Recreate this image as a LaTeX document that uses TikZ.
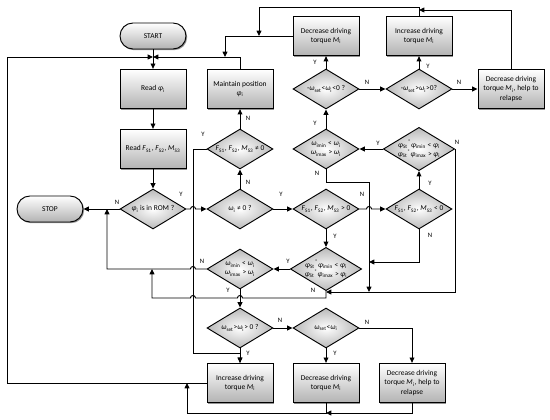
\documentclass[tikz,border=0pt]{standalone}
\usepackage{fontspec}
\setmainfont{Carlito}
\usetikzlibrary{arrows.meta,shapes.geometric,shadows}
% italic symbol with subscript
\newcommand{\ix}[2]{\textit{#1}\textsubscript{#2}}

\begin{document}
\begin{tikzpicture}[
  x=0.75pt, y=-0.75pt,
  line width=0.7pt,
  font=\fontsize{5.6}{6.8}\selectfont,
  box/.style={draw, minimum width=49.5pt, minimum height=29.5pt, inner sep=1pt, align=center,
    top color=white, bottom color=gray!60,
    drop shadow={shadow xshift=0.9pt, shadow yshift=-0.9pt, fill=black!60, opacity=0.7}},
  term/.style={box, rounded corners=9.7pt, minimum height=19.5pt},
  test/.style={draw, diamond, aspect=1.65, minimum width=49.5pt, minimum height=30pt, inner sep=0pt,
    align=center, inner color=white, outer color=gray!55},
  arrow/.style={-{Triangle[length=4pt, width=3.6pt]}},
  lbl/.style={font=\fontsize{5}{6}\selectfont, inner sep=0pt}
]
\useasboundingbox (0,0) rectangle (550,420);

% left column
\node[term] (start) at (153,36) {START};
\node[box] (readphi) at (153,89) {Read \ix{φ}{i}};
\node[box] (readF) at (153,149) {Read \ix{F}{S1}, \ix{F}{S2}, \ix{M}{S3}};
\node[test] (rom) at (153,209) {\ix{φ}{i} is in ROM ?};
\node[term] (stop) at (50,209) {STOP};

% middle row
\node[test] (wzero) at (240,209) {\ix{ω}{i} ≠ 0 ?};
\node[test] (fnz) at (240,149) {\ix{F}{S1}, \ix{F}{S2}, \ix{M}{S3} ≠ 0};
\node[box] (maintain) at (240,89) {Maintain position\\\ix{φ}{i}};
\node[test] (fpos) at (326,209) {\ix{F}{S1}, \ix{F}{S2}, \ix{M}{S3} \textgreater{} 0};
\node[test] (fneg) at (419,209) {\ix{F}{S1}, \ix{F}{S2}, \ix{M}{S3} \textless{} 0};

% upper part
\node[test] (phiup) at (419,149) {\ix{φ}{St}\textsuperscript{*}\ix{φ}{imin} \textless{} \ix{φ}{i}\\\ix{φ}{St}\textsuperscript{*}\ix{φ}{imax} \textgreater{} \ix{φ}{i}};
\node[test] (omup) at (326,149) {\ix{ω}{imin} \textless{} \ix{ω}{i}\\\ix{ω}{imax} \textgreater{} \ix{ω}{i}};
\node[test] (wneg) at (326,89) {-\ix{ω}{set}\textless\ix{ω}{i}\textless0 ?};
\node[test] (wpos) at (419,89) {-\ix{ω}{set}\textgreater\ix{ω}{i}\textgreater0?};
\node[box] (dectop) at (326,36) {Decrease driving\\torque \ix{M}{i}};
\node[box] (inctop) at (419,36) {Increase driving\\torque \ix{M}{i}};
\node[box] (relapsetop) at (511,89) {Decrease driving\\torque \ix{M}{i}, help to\\relapse};

% lower part
\node[test] (philow) at (326,269) {\ix{φ}{St}\textsuperscript{*}\ix{φ}{imin} \textless{} \ix{φ}{i}\\\ix{φ}{St}\textsuperscript{*}\ix{φ}{imax} \textgreater{} \ix{φ}{i}};
\node[test] (omlow) at (240,269) {\ix{ω}{imin} \textless{} \ix{ω}{i}\\\ix{ω}{imax} \textgreater{} \ix{ω}{i}};
\node[test] (wset) at (240,328) {\ix{ω}{set}\textgreater\ix{ω}{i}\textgreater{} 0 ?};
\node[test] (wless) at (326,328) {\ix{ω}{set}\textless\ix{ω}{i}};
\node[box] (incbot) at (240,383) {Increase driving\\torque \ix{M}{i}};
\node[box] (decbot) at (326,383) {Decrease driving\\torque \ix{M}{i}};
\node[box] (relapsebot) at (412,383) {Decrease driving\\torque \ix{M}{i}, help to\\relapse};

% junctions
\coordinate (jtop) at (153,57);
\coordinate (jdec) at (225,57);
\coordinate (jdt) at (259,36);
\coordinate (jrel) at (419,10);
\coordinate (jstop) at (107,209);
\coordinate (jlow) at (152,269);
\coordinate (jphi) at (326,292);
\coordinate (jom) at (369,292);
\coordinate (jfn) at (369,262);
\coordinate (jinc) at (240,353);
\coordinate (jbot) at (326,413);
\coordinate (jloop) at (187,383);

% main line
\draw[arrow] (start) -- (readphi);
\draw[arrow] (readphi) -- (readF);
\draw[arrow] (readF) -- (rom);
\draw[arrow] (rom) -- (stop);
\draw[arrow] (rom.east) -- (190.5,209) arc[start angle=180, end angle=0, radius=1.9pt] -- (wzero.west);
\draw[arrow] (wzero) -- (fnz);
\draw[arrow] (fnz) -- (maintain);
\draw[arrow] (fnz.west) -| (193,353) -- (jinc) -- (incbot);
\draw[arrow] (wzero) -- (fpos);
\draw[arrow] (fpos.east) -- (366.5,209) arc[start angle=180, end angle=0, radius=1.9pt] -- (fneg.west);
\draw[arrow] (fpos) -- (philow);
\draw[arrow] (fneg) -- (phiup);
\draw[arrow] (fneg.south) |- (jfn);

% upper loops
\draw[arrow] (phiup) -- (omup);
\draw[arrow] (phiup.east) -- (455,149) |- (jphi);
\draw[arrow] (omup) -- (wneg);
\draw[arrow] (omup.south) -- (326,182) -| (jom);
\draw[arrow] (wneg) -- (dectop);
\draw[arrow] (wneg) -- (wpos);
\draw[arrow] (wpos) -- (inctop);
\draw[arrow] (wpos) -- (relapsetop);
\draw[arrow] (relapsetop.north) |- (jrel);
\draw[arrow] (inctop.north) |- (259,7) -- (jdt);
\draw[arrow] (dectop.west) -| (jdec);
\draw[arrow] (maintain.north) |- (jtop);

% lower loops
\draw[arrow] (philow) -- (omlow);
\draw[arrow] (philow.south) -- (326,298) -- (242.5,298) arc[start angle=0, end angle=180, radius=1.9pt]
  -- (195.5,298) arc[start angle=0, end angle=180, radius=1.9pt] -- (152,298) -- (jlow);
\draw[arrow] (omlow.west) -- (195.5,269) arc[start angle=0, end angle=180, radius=1.9pt] -- (107,269) -- (jstop);
\draw[arrow] (omlow) -- (wset);
\draw[arrow] (wset) -- (wless);
\draw[arrow] (wset) -- (incbot);
\draw[arrow] (wless) -- (decbot);
\draw[arrow] (wless.east) -| (relapsebot.north);
\draw[arrow] (relapsebot.south) |- (jbot);
\draw[arrow] (decbot.south) -- (jbot) -| (jloop);
\draw[arrow] (incbot.west) -| (7,57) -- (jtop);

% Y / N labels
\node[lbl] (l1) at (117,202) {N};
\node[lbl] (l2) at (181,194) {Y};
\node[lbl] (l3) at (248,182) {N};
\node[lbl] (l4) at (281,194) {Y};
\node[lbl] (l5) at (248,118) {N};
\node[lbl] (l6) at (203,134) {Y};
\node[lbl] (l7) at (362,194) {N};
\node[lbl] (l8) at (335,236) {Y};
\node[lbl] (l9) at (430,183) {Y};
\node[lbl] (l10) at (430,235) {N};
\node[lbl] (l11) at (378,143) {Y};
\node[lbl] (l12) at (457,142) {N};
\node[lbl] (l13) at (315,123) {Y};
\node[lbl] (l14) at (317,173) {N};
\node[lbl] (l15) at (315,62) {Y};
\node[lbl] (l16) at (367,82) {N};
\node[lbl] (l17) at (428,66) {Y};
\node[lbl] (l18) at (459,82) {N};
\node[lbl] (l19) at (288,261) {Y};
\node[lbl] (l20) at (313,290) {N};
\node[lbl] (l21) at (202,261) {N};
\node[lbl] (l22) at (228,290) {Y};
\node[lbl] (l23) at (280,320) {N};
\node[lbl] (l24) at (248,353) {Y};
\node[lbl] (l25) at (335,353) {Y};
\node[lbl] (l26) at (367,322) {N};
\end{tikzpicture}
\end{document}
